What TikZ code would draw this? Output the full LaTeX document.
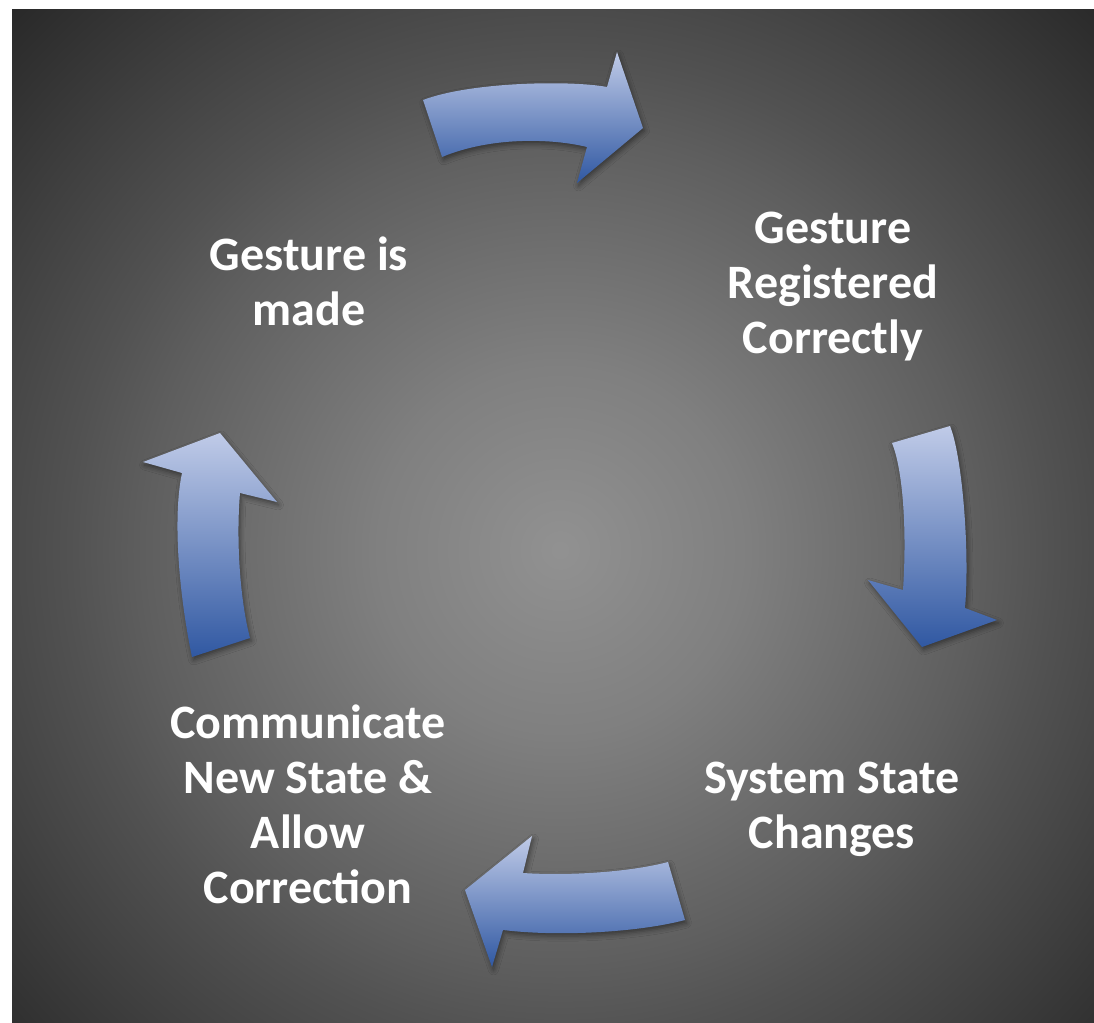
\documentclass[tikz,border=0pt]{standalone}
\usepackage{fontspec}
\setmainfont{Carlito}
\usetikzlibrary{shadows.blur}

% background glow tones
\definecolor{bgA}{gray}{0.57}
\definecolor{bgB}{gray}{0.50}
\definecolor{bgC}{gray}{0.37}
\definecolor{bgD}{gray}{0.32}
\definecolor{bgE}{gray}{0.25}
\definecolor{bgF}{gray}{0.16}
% block arrow gradient
\definecolor{arrowtop}{RGB}{192,203,232}
\definecolor{arrowbot}{RGB}{48,88,162}

\pgfdeclareradialshading{bgglow}{\pgfpoint{0bp}{0bp}}{%
  color(0bp)=(bgA); color(6bp)=(bgB); color(13.5bp)=(bgC);
  color(16bp)=(bgD); color(20bp)=(bgE); color(25bp)=(bgF); color(50bp)=(bgF)}

\tikzset{
  cyclearrow/.style={top color=arrowtop, bottom color=arrowbot,
    blur shadow={shadow xshift=1.5pt, shadow yshift=-3pt,
      shadow blur radius=5pt, shadow opacity=45}},
  stagetext/.style={text=white, align=center,
    font=\bfseries\fontsize{48bp}{55bp}\selectfont}
}

\begin{document}
\begin{tikzpicture}[x=1bp,y=-1bp]
  \useasboundingbox (0,0) rectangle (1094,1023);
  % page and dark panel with a soft central glow
  \fill[white] (0,0) rectangle (1094,1023);
  \begin{scope}
    \clip (12,9) rectangle (1094,1023);
    \shade[shading=bgglow] (560,550) circle (770bp);
  \end{scope}

  % curved block arrows of the cycle
  \path[cyclearrow] (423,100) -- (442,157)
    .. controls (490,137) and (550,138) .. (587,147)
    -- (577,183) -- (643,128) -- (617,52) -- (607,87)
    .. controls (570,80) and (470,82) .. (423,100) -- cycle;
  \path[cyclearrow] (950,426)
    .. controls (962,455) and (970,550) .. (965,608)
    -- (997,620) -- (922,647) -- (868,580) -- (903,590)
    .. controls (907,530) and (903,470) .. (892,443) -- cycle;
  \path[cyclearrow] (668,862) -- (685,920)
    .. controls (640,932) and (560,937) .. (503,930)
    -- (492,967) -- (465,890) -- (532,836) -- (523,873)
    .. controls (570,876) and (630,872) .. (668,862) -- cycle;
  \path[cyclearrow] (192,657)
    .. controls (180,600) and (172,520) .. (182,473)
    -- (143,462) -- (220,433) -- (277,502) -- (240,493)
    .. controls (236,540) and (240,600) .. (250,638) -- cycle;

  % stage labels
  \node[stagetext] (made) at (309,281) {Gesture is\\made};
  \node[stagetext] (registered) at (833,287) {Gesture\\Registered\\Correctly};
  \node[stagetext] (changes) at (832,809) {System State\\Changes};
  \node[stagetext] (communicate) at (308,804) {Communicate\\New State \&\\Allow\\Correction};
\end{tikzpicture}
\end{document}
